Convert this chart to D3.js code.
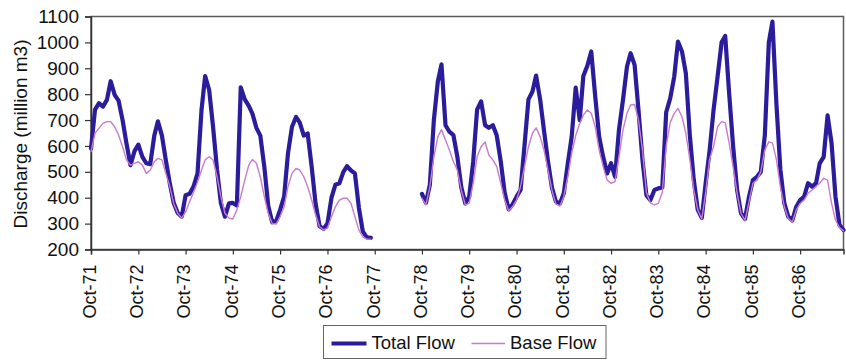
<!DOCTYPE html>
<html>
<head>
<meta charset="utf-8">
<script src="https://cdn.jsdelivr.net/npm/d3@7"></script>
<style>
  html, body { margin: 0; padding: 0; background: #fff; }
  svg { display: block; font-family: Arial, "Liberation Sans", Helvetica, sans-serif; }
</style>
</head>
<body>
<svg id="chart" width="846" height="360"></svg>
<script>
// Monthly discharge (million m3), October 1971 to September 1987.
// The 1977-78 water year has no record (nulls).
const firstMonth = new Date(1971, 9, 1);
const lastMonth = new Date(1987, 8, 1);

const totalFlow = [
  // Oct-71 .. Sep-72
  590, 740, 765, 752, 778, 850, 797, 775, 700, 610, 526, 580,
  // Oct-72 .. Sep-73
  605, 558, 533, 530, 640, 695, 640, 545, 455, 380, 341, 327,
  // Oct-73 .. Sep-74
  410, 415, 443, 494, 740, 870, 816, 674, 507, 378, 327, 378,
  // Oct-74 .. Sep-75
  380, 370, 826, 780, 755, 725, 670, 640, 520, 370, 305, 310,
  // Oct-75 .. Sep-76
  353, 404, 572, 674, 712, 690, 640, 648, 520, 378, 290, 280,
  // Oct-76 .. Sep-77
  300, 400, 450, 456, 500, 522, 505, 494, 360, 270, 247, 245,
  // Oct-77 .. Sep-78 (no record)
  null, null, null, null, null, null, null, null, null, null, null, null,
  // Oct-78 .. Sep-79
  415, 380, 450, 700, 850, 915, 680, 655, 642, 560, 440, 378,
  // Oct-79 .. Sep-80
  404, 540, 740, 772, 680, 670, 680, 640, 540, 420, 355, 375,
  // Oct-80 .. Sep-81
  404, 430, 600, 780, 810, 872, 780, 660, 540, 440, 385, 378,
  // Oct-81 .. Sep-82
  417, 533, 636, 825, 700, 870, 910, 965, 790, 636, 558, 494,
  // Oct-82 .. Sep-83
  533, 481, 661, 777, 906, 958, 913, 739, 545, 410, 391, 430,
  // Oct-83 .. Sep-84
  436, 440, 730, 784, 867, 1003, 965, 880, 640, 470, 353, 322,
  // Oct-84 .. Sep-85
  456, 584, 739, 867, 1000, 1025, 800, 600, 430, 340, 318, 404,
  // Oct-85 .. Sep-86
  468, 481, 500, 640, 1000, 1080, 760, 510, 378, 327, 312, 365,
  // Oct-86 .. Sep-87
  391, 404, 456, 443, 456, 533, 558, 718, 610, 404, 295, 275
];

const baseFlow = [
  // Oct-71 .. Sep-72
  578, 649, 668, 687, 694, 694, 674, 642, 597, 546, 526, 533,
  // Oct-72 .. Sep-73
  539, 526, 494, 507, 539, 552, 546, 494, 443, 378, 340, 321,
  // Oct-73 .. Sep-74
  345, 385, 420, 460, 507, 546, 558, 546, 481, 404, 340, 321,
  // Oct-74 .. Sep-75
  318, 353, 404, 468, 526, 548, 533, 481, 404, 340, 300, 298,
  // Oct-75 .. Sep-76
  327, 365, 443, 494, 513, 507, 481, 443, 391, 334, 288, 276,
  // Oct-76 .. Sep-77
  282, 327, 365, 391, 398, 398, 378, 327, 275, 249, 240, 240,
  // Oct-77 .. Sep-78 (no record)
  null, null, null, null, null, null, null, null, null, null, null, null,
  // Oct-78 .. Sep-79
  398, 372, 443, 558, 636, 663, 623, 584, 540, 507, 430, 372,
  // Oct-79 .. Sep-80
  378, 456, 558, 597, 615, 565, 546, 520, 456, 391, 350, 366,
  // Oct-80 .. Sep-81
  391, 443, 520, 597, 649, 670, 636, 584, 507, 430, 375, 368,
  // Oct-81 .. Sep-82
  404, 481, 572, 640, 687, 719, 739, 726, 674, 584, 520, 468,
  // Oct-82 .. Sep-83
  456, 462, 558, 661, 726, 758, 760, 700, 584, 420, 380, 372,
  // Oct-83 .. Sep-84
  378, 420, 600, 690, 726, 745, 713, 649, 546, 430, 353, 318,
  // Oct-84 .. Sep-85
  420, 550, 597, 674, 694, 690, 610, 520, 417, 340, 312, 385,
  // Oct-85 .. Sep-86
  456, 468, 500, 584, 616, 612, 546, 443, 365, 321, 305, 353,
  // Oct-86 .. Sep-87
  378, 391, 417, 430, 443, 456, 475, 468, 378, 314, 285, 272
];

const yTicks = [200, 300, 400, 500, 600, 700, 800, 900, 1000, 1100];
const xTickLabels = ["Oct-71", "Oct-72", "Oct-73", "Oct-74", "Oct-75", "Oct-76",
  "Oct-77", "Oct-78", "Oct-79", "Oct-80", "Oct-81", "Oct-82", "Oct-83",
  "Oct-84", "Oct-85", "Oct-86"];
const seriesNames = ["Total Flow", "Base Flow"];
const yTitle = "Discharge (million m3)";

// ---- layout ----
const plot = { left: 91, right: 843.5, top: 16.5, bottom: 249.5 };
const svg = d3.select("#chart");

const x = d3.scaleTime().domain([firstMonth, lastMonth]).range([plot.left, plot.right]);
const y = d3.scaleLinear().domain([200, 1100]).range([plot.bottom, plot.top]);

const monthDate = i => d3.timeMonth.offset(firstMonth, i);
const parseTick = d3.timeParse("%b-%y");
const xTickDates = xTickLabels.map(parseTick).map(d => {
  // two-digit years here are all 19xx
  const dt = new Date(d); if (dt.getFullYear() > 2000) dt.setFullYear(dt.getFullYear() - 100); return dt;
});

// plot frame
svg.append("rect")
  .attr("x", plot.left).attr("y", plot.top)
  .attr("width", plot.right - plot.left).attr("height", plot.bottom - plot.top)
  .attr("fill", "#fff").attr("stroke", "#5a5a5a").attr("stroke-width", 1.5);

// y axis
const yAxis = svg.append("g")
  .attr("transform", `translate(${plot.left},0)`)
  .call(d3.axisLeft(y).tickValues(yTicks).tickSize(6).tickPadding(6).tickFormat(d3.format("d")));
yAxis.select(".domain").attr("stroke", "#333").attr("stroke-width", 1.5);
yAxis.selectAll(".tick line").attr("stroke", "#333").attr("stroke-width", 1.2);
yAxis.selectAll("text").attr("font-size", 19).attr("fill", "#111");

// x axis
const xAxis = svg.append("g")
  .attr("transform", `translate(0,${plot.bottom})`)
  .call(d3.axisBottom(x).tickValues(xTickDates).tickSize(5)
    .tickFormat((d, i) => xTickLabels[i]));
xAxis.select(".domain").attr("stroke", "#333").attr("stroke-width", 1.5);
xAxis.selectAll(".tick line").attr("stroke", "#333").attr("stroke-width", 1.2);
xAxis.selectAll("text")
  .attr("font-size", 18).attr("fill", "#111")
  .attr("text-anchor", "end")
  .attr("transform", "rotate(-90)")
  .attr("x", -15).attr("y", -2).attr("dy", "0.35em");

// y axis title
svg.append("text")
  .attr("transform", `translate(27,${(plot.top + plot.bottom) / 2 + 1}) rotate(-90)`)
  .attr("text-anchor", "middle")
  .attr("font-size", 19).attr("fill", "#111")
  .text(yTitle);

// series
const line = d3.line()
  .defined(d => d.v != null)
  .x(d => x(d.date))
  .y(d => y(d.v));

const toPoints = arr => arr.map((v, i) => ({ date: monthDate(i), v }));

const series = [
  { name: seriesNames[0], values: totalFlow, color: "#2b1c9c", width: 4.2 },
  { name: seriesNames[1], values: baseFlow, color: "#c77ccc", width: 1.4 }
];

svg.append("g").selectAll("path")
  .data(series)
  .join("path")
  .attr("d", s => line(toPoints(s.values)))
  .attr("fill", "none")
  .attr("stroke", s => s.color)
  .attr("stroke-width", s => s.width)
  .attr("stroke-linejoin", "round")
  .attr("stroke-linecap", "round");

// legend
const legend = svg.append("g");
legend.append("rect")
  .attr("x", 323.5).attr("y", 325.5).attr("width", 282.5).attr("height", 33)
  .attr("fill", "#fff").attr("stroke", "#666").attr("stroke-width", 1);
const legendItems = [
  { s: series[0], x1: 331.5, x2: 366.5, tx: 371.5 },
  { s: series[1], x1: 471.5, x2: 505, tx: 510 }
];
legendItems.forEach(it => {
  legend.append("line")
    .attr("x1", it.x1).attr("x2", it.x2).attr("y1", 343.5).attr("y2", 343.5)
    .attr("stroke", it.s.color).attr("stroke-width", it.s.width);
  legend.append("text")
    .attr("x", it.tx).attr("y", 349)
    .attr("font-size", 18.5).attr("fill", "#111")
    .text(it.s.name);
});
</script>
</body>
</html>
